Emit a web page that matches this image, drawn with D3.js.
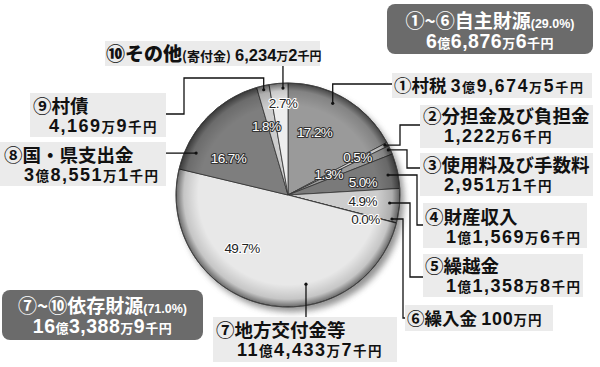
<!DOCTYPE html>
<meta charset="utf-8">
<style>
body { margin: 0; background: #fff; }
svg { display: block; }
.jp { font-family: "Noto Sans CJK JP", sans-serif; font-weight: 700; }
.jpb { font-family: "Noto Sans CJK JP", sans-serif; font-weight: 900; }
.num { font-family: "Liberation Sans", Arial, sans-serif; font-weight: 700; }
.pct { font-family: "Liberation Sans", Arial, sans-serif; font-size: 13.5px; letter-spacing: -0.6px; paint-order: stroke; stroke-linejoin: round; }
</style>
<svg id="chart" width="600" height="367"></svg>
<script src="https://cdn.jsdelivr.net/npm/d3@7"></script>
<script>

// ---- data ----
var names = ["①村税", "②分担金及び負担金", "③使用料及び手数料", "④財産収入", "⑤繰越金",
             "⑥繰入金", "⑦地方交付金等", "⑧国・県支出金", "⑨村債", "⑩その他"];
var subNames = ["", "", "", "", "", "", "", "", "", "(寄付金)"];
var amounts = ["3億9,674万5千円", "1,222万6千円", "2,951万1千円", "1億1,569万6千円", "1億1,358万8千円",
               "100万円", "11億4,433万7千円", "3億8,551万1千円", "4,169万9千円", "6,234万2千円"];
var values = [396745, 12226, 29511, 115696, 113588, 1000, 1144337, 385511, 41699, 62342]; // 千円
var pctLabels = ["17.2%", "0.5%", "1.3%", "5.0%", "4.9%", "0.0%", "49.7%", "16.7%", "1.8%", "2.7%"];

var groupNames = ["①~⑥自主財源", "⑦~⑩依存財源"];
var groupPcts = ["(29.0%)", "(71.0%)"];
var groupAmounts = ["6億6,876万6千円", "16億3,388万9千円"];

// ---- layout ----
var cx = 288, cy = 195, R = 112;
var colors = ["#9a9a9a", "#d4d4d4", "#9a9a9a", "#7a7a7a", "#cdcdcd", "#888888",
              "#e8e8e8", "#7e7e7e", "#cdcdcd", "#eeeeee"];
var pctWhite = [true, true, true, true, false, false, false, true, true, false];
// label position: [angle deg, radius]
var pctPos = [[23, 68], [61.5, 79], [62.5, 46], [80, 76], [94.6, 75], [107, 81],
              [221, 70], [301.7, 70], [342.3, 72], [356.9, 92]];
// leader: anchor dot [angle deg, radius], then legs
var leaders = [
  {at: [26, 102],   legs: [["v", 84], ["h", 392]]},
  {at: [62.8, 109], legs: [["h", 400], ["v", 125], ["h", 420]]},
  {at: [65.8, 110], legs: [["h", 407], ["v", 168], ["h", 420]]},
  {at: [78.7, 102], legs: [["h", 417], ["v", 225], ["h", 423]]},
  {at: [94.5, 102], legs: [["h", 410], ["v", 277], ["h", 423]]},
  {at: [103, 106.7], legs: [["h", 403], ["v", 318], ["h", 405]]},
  {at: [168.6, 91], legs: [["v", 317]]},
  {at: [294.5, 101], legs: [["h", 166]]},
  {at: [347, 108],  legs: [["v", 78], ["h", 184], ["v", 114], ["h", 166]]},
  {at: [357.3, 107], legs: [["v", 66]]}
];
// boxes: one-line (ty) or two-line (ny, ay); ds/us digit/unit size, ls letter-spacing
var boxes = [
  {x: 392, y: 73,  w: 200, h: 25, tx: 394, ty: 92, ds: 17.5, us: 13, ls: 1.7},
  {x: 420, y: 105, w: 173, h: 43, nx: 423, ny: 123, ax: 444, ay: 142},
  {x: 420, y: 153, w: 173, h: 43, nx: 423, ny: 172, ax: 444, ay: 191},
  {x: 423, y: 203, w: 164, h: 45, nx: 425, ny: 224, ax: 446, ay: 243},
  {x: 423, y: 254, w: 160, h: 43, nx: 425, ny: 273, ax: 446, ay: 292},
  {x: 405, y: 305, w: 148, h: 26, tx: 407, ty: 325, ds: 18, us: 13.5, ls: 0.8},
  {x: 213, y: 317, w: 184, h: 45, nx: 216, ny: 337, ax: 237, ay: 356},
  {x: 0,   y: 142, w: 166, h: 44, nx: 4, ny: 162, ax: 24, ay: 181},
  {x: 30,  y: 93,  w: 136, h: 44, nx: 33, ny: 113, ax: 49, ay: 132},
  {x: 105, y: 41,  w: 215, h: 25, tx: 106, ty: 61, ds: 16.5, us: 12, ls: 0}
];
var groupBoxes = [
  {x: 387, y: 4, w: 206, h: 50, l1: 28, l2: 48},
  {x: 2, y: 290, w: 201, h: 50, l1: 313, l2: 333}
];

var svg = d3.select("#chart");
var defs = svg.append("defs");

var blur = defs.append("filter").attr("id", "shadow")
  .attr("x", "-20%").attr("y", "-20%").attr("width", "140%").attr("height", "140%");
blur.append("feGaussianBlur").attr("stdDeviation", 3);

var grad = defs.append("radialGradient").attr("id", "edge")
  .attr("cx", 0).attr("cy", 0).attr("r", R).attr("gradientUnits", "userSpaceOnUse");
grad.append("stop").attr("offset", "0%").attr("stop-color", "#000").attr("stop-opacity", 0);
grad.append("stop").attr("offset", "80%").attr("stop-color", "#000").attr("stop-opacity", 0);
grad.append("stop").attr("offset", "93%").attr("stop-color", "#000").attr("stop-opacity", 0.15);
grad.append("stop").attr("offset", "100%").attr("stop-color", "#000").attr("stop-opacity", 0.55);

function pt(a) {
  var p = d3.pointRadial(a[0] * Math.PI / 180, a[1]);
  return [cx + p[0], cy + p[1]];
}

// units (億 万 千円) drawn smaller than the digits
function amountText(sel, str, big, small) {
  str.split(/([億万千円]+)/).filter(function(s) { return s.length; }).forEach(function(s) {
    var unit = /[億万千円]/.test(s);
    sel.append("tspan")
      .attr("class", unit ? "jp" : "num")
      .attr("font-size", unit ? small : big)
      .text(s);
  });
}

// ---- pie ----
var g = svg.append("g").attr("transform", "translate(" + cx + "," + cy + ")");
g.append("circle").attr("cx", 4).attr("cy", 5).attr("r", R)
  .attr("fill", "#666").attr("opacity", 0.7).attr("filter", "url(#shadow)");

var arcs = d3.pie().sort(null).value(function(d) { return d; })(values);
var arc = d3.arc().innerRadius(0).outerRadius(R);

g.selectAll("path.slice")
  .data(arcs)
  .enter().append("path")
  .attr("class", "slice")
  .attr("d", arc)
  .attr("fill", function(d, i) { return colors[i]; })
  .attr("stroke", "#333")
  .attr("stroke-width", 0.8);

g.append("circle").attr("r", R).attr("fill", "url(#edge)");
g.append("circle").attr("r", R).attr("fill", "none").attr("stroke", "#444").attr("stroke-width", 0.8);

svg.selectAll("text.pct")
  .data(pctLabels)
  .enter().append("text")
  .attr("class", "pct")
  .attr("text-anchor", "middle")
  .attr("x", function(d, i) { return pt(pctPos[i])[0]; })
  .attr("y", function(d, i) { return pt(pctPos[i])[1] + 5; })
  .attr("fill", function(d, i) { return pctWhite[i] ? "#fff" : "#222"; })
  .attr("stroke", function(d, i) { return pctWhite[i] ? "#333" : "#fff"; })
  .attr("stroke-width", 2.2)
  .text(function(d) { return d; });

// ---- leader lines ----
leaders.forEach(function(l) {
  var p = pt(l.at), pts = [p.slice()];
  l.legs.forEach(function(s) {
    if (s[0] === "h") p = [s[1], p[1]]; else p = [p[0], s[1]];
    pts.push(p);
  });
  svg.append("path")
    .attr("d", d3.line()(pts))
    .attr("fill", "none").attr("stroke", "#111").attr("stroke-width", 1.3);
  svg.append("circle").attr("cx", pts[0][0]).attr("cy", pts[0][1]).attr("r", 1.6).attr("fill", "#111");
});

// ---- label boxes ----
boxes.forEach(function(b, i) {
  svg.append("rect").attr("x", b.x).attr("y", b.y).attr("width", b.w).attr("height", b.h)
    .attr("fill", "#ebebeb");
  if (b.ty) {
    var t = svg.append("text").attr("x", b.tx).attr("y", b.ty).attr("fill", "#111");
    t.append("tspan").attr("class", subNames[i] ? "jpb" : "jp")
      .attr("font-size", subNames[i] ? 19 : 17.5).text(names[i]);
    if (subNames[i]) t.append("tspan").attr("class", "jp").attr("font-size", 13).text(subNames[i]);
    t.append("tspan").attr("class", "num").attr("font-size", 15).text(" ");
    var a1 = t.append("tspan").attr("letter-spacing", b.ls);
    amountText(a1, amounts[i], b.ds, b.us);
  } else {
    var t2 = svg.append("text").attr("fill", "#111");
    t2.append("tspan").attr("x", b.nx).attr("y", b.ny)
      .attr("class", "jp").attr("font-size", 18.5).text(names[i]);
    var a = t2.append("tspan").attr("x", b.ax).attr("y", b.ay).attr("letter-spacing", 1.5);
    amountText(a, amounts[i], 18, 13.5);
  }
});

// ---- group boxes ----
groupBoxes.forEach(function(b, i) {
  svg.append("rect").attr("x", b.x).attr("y", b.y).attr("width", b.w).attr("height", b.h)
    .attr("rx", 8).attr("fill", "#6b6b6b");
  var t = svg.append("text").attr("text-anchor", "middle").attr("fill", "#fff");
  var l1 = t.append("tspan").attr("x", b.x + b.w / 2).attr("y", b.l1);
  l1.append("tspan").attr("class", "jp").attr("font-size", 19).text(groupNames[i]);
  l1.append("tspan").attr("class", "num").attr("font-size", 12.5).text(groupPcts[i]);
  var l2 = t.append("tspan").attr("x", b.x + b.w / 2).attr("y", b.l2).attr("letter-spacing", 0.5);
  amountText(l2, groupAmounts[i], 19.5, 13);
});

</script>
